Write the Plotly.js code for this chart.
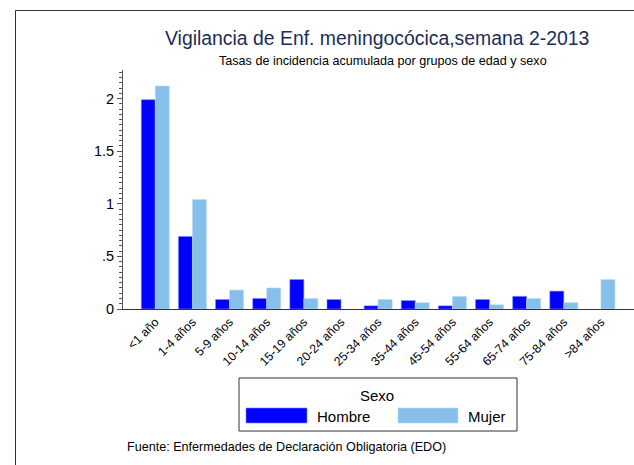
<!DOCTYPE html>
<html>
<head>
<meta charset="utf-8">
<script src="https://cdn.plot.ly/plotly-3.0.1.min.js"></script>
<style>html,body{margin:0;padding:0;background:#fff;}#chart{width:634px;height:465px;}</style>
</head>
<body>
<div id="chart"></div>
<script>
const categories = ['<1 año','1-4 años','5-9 años','10-14 años','15-19 años','20-24 años','25-34 años','35-44 años','45-54 años','55-64 años','65-74 años','75-84 años','>84 años'];
const hombre = [1.99,0.69,0.09,0.10,0.28,0.09,0.03,0.08,0.03,0.09,0.12,0.17,0];
const mujer  = [2.12,1.04,0.18,0.20,0.10,0,0.09,0.06,0.12,0.04,0.10,0.06,0.28];
const seriesNames = ['Hombre','Mujer'];
const legendTitle = 'Sexo';
const yTickVals = [0,0.5,1,1.5,2];
const yTickText = ['0','.5','1','1.5','2'];
const titleText = 'Vigilancia de Enf. meningocócica,semana 2-2013';
const subtitleText = 'Tasas de incidencia acumulada por grupos de edad y sexo';
const noteText = 'Fuente: Enfermedades de Declaración Obligatoria (EDO)';

const W = 634, H = 465;
const M = {l:123, r:0, t:70, b:156};
const PW = W - M.l - M.r, PH = H - M.t - M.b;
const px = x => (x - M.l) / PW;
const py = y => (H - M.b - y) / PH;

const colH = '#0000ff', colM = '#85bfea';
const edgeH = '#7a8cff', edgeM = '#b5dcf5';
const font = 'Liberation Sans, Arial, sans-serif';

const esc = s => s.replace(/</g,'&lt;').replace(/>/g,'&gt;');
const edgeWidths = arr => arr.map(v => v > 0 ? 0.6 : 0);

const traces = [
  {type:'bar', x:categories, y:hombre, name:seriesNames[0],
   marker:{color:colH, line:{color:edgeH, width:edgeWidths(hombre)}}},
  {type:'bar', x:categories, y:mujer, name:seriesNames[1],
   marker:{color:colM, line:{color:edgeM, width:edgeWidths(mujer)}}}
];

const shapes = [
  {type:'rect', xref:'paper', yref:'paper', x0:px(15.5), x1:px(700), y0:py(10.5), y1:py(520),
   line:{color:'#333', width:1}, fillcolor:'rgba(0,0,0,0)', layer:'below'},
  {type:'rect', xref:'paper', yref:'paper', x0:px(239), x1:px(517), y0:py(378), y1:py(431),
   line:{color:'#333', width:1}, fillcolor:'#fff'},
  {type:'rect', xref:'paper', yref:'paper', x0:px(246), x1:px(307), y0:py(408), y1:py(423),
   line:{color:edgeH, width:0.6}, fillcolor:colH},
  {type:'rect', xref:'paper', yref:'paper', x0:px(398), x1:px(458), y0:py(408), y1:py(423),
   line:{color:edgeM, width:0.6}, fillcolor:colM}
];

const annotations = [
  {text:titleText, xref:'paper', yref:'paper', x:px(376.5), y:py(38), xanchor:'center', yanchor:'middle',
   showarrow:false, font:{family:font, size:19.4, color:'#1c2d5a'}},
  {text:subtitleText, xref:'paper', yref:'paper', x:px(383), y:py(61), xanchor:'center', yanchor:'middle',
   showarrow:false, font:{family:font, size:12.6, color:'#000'}},
  {text:legendTitle, xref:'paper', yref:'paper', x:px(377), y:py(395), xanchor:'center', yanchor:'middle',
   showarrow:false, font:{family:font, size:15, color:'#000'}},
  {text:seriesNames[0], xref:'paper', yref:'paper', x:px(315), y:py(416), xanchor:'left', yanchor:'middle',
   showarrow:false, font:{family:font, size:15, color:'#000'}},
  {text:seriesNames[1], xref:'paper', yref:'paper', x:px(466), y:py(416), xanchor:'left', yanchor:'middle',
   showarrow:false, font:{family:font, size:15, color:'#000'}},
  {text:noteText, xref:'paper', yref:'paper', x:px(125), y:py(447), xanchor:'left', yanchor:'middle',
   showarrow:false, font:{family:font, size:12.6, color:'#000'}}
];

const layout = {
  width:W, height:H, margin:M,
  paper_bgcolor:'#fff', plot_bgcolor:'#fff',
  showlegend:false,
  barmode:'group', bargap:0.246, bargroupgap:0,
  font:{family:font, color:'#000'},
  xaxis:{type:'category', range:[-0.87, 12.89], tickvals:categories, ticktext:categories.map(esc),
    tickangle:-45, tickfont:{family:font, size:12.3, color:'#000'},
    showline:true, linecolor:'#333', linewidth:1, ticks:'', showgrid:false, zeroline:false, fixedrange:true},
  yaxis:{range:[0, 2.272], tickvals:yTickVals, ticktext:yTickText,
    tickfont:{family:font, size:14.5, color:'#000'},
    showline:true, linecolor:'#555', linewidth:1, ticks:'outside', ticklen:5, tickcolor:'#555', tickwidth:1,
    minor:{dtick:0.05, ticks:'outside', ticklen:3, tickcolor:'#555', tickwidth:1, showgrid:false},
    showgrid:false, zeroline:false, fixedrange:true},
  shapes:shapes, annotations:annotations
};

Plotly.newPlot('chart', traces, layout, {staticPlot:true, displayModeBar:false});
</script>
</body>
</html>
